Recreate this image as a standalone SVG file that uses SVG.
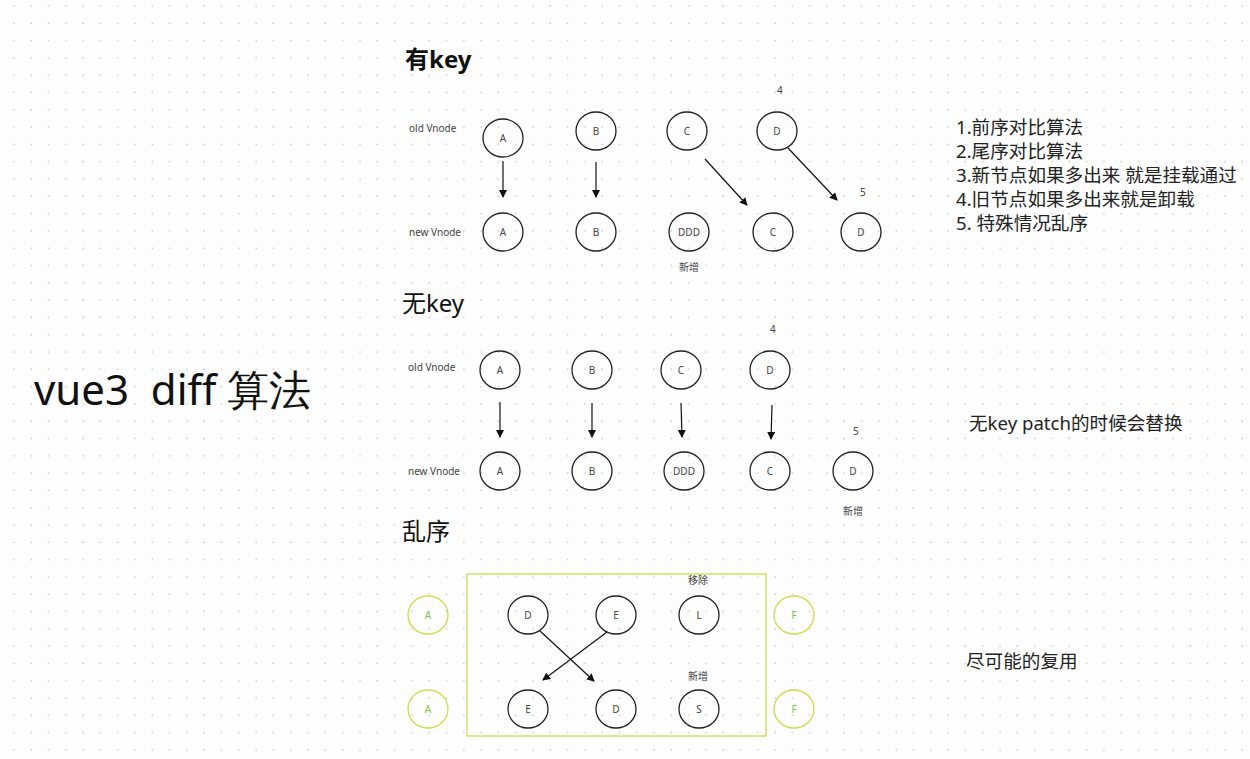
<svg xmlns="http://www.w3.org/2000/svg" width="1250" height="759" viewBox="0 0 1250 759">
<defs>
<pattern id="dots" width="17.3" height="17.3" patternUnits="userSpaceOnUse" x="6" y="-2"><circle cx="8" cy="8" r="0.9" fill="#c8c8c8"/></pattern>
<marker id="ah" markerWidth="8" markerHeight="8" refX="7" refY="4" orient="auto" markerUnits="userSpaceOnUse"><path d="M0,0 L8,4 L0,8 z" fill="#111"/></marker>
<style>
.n ellipse{fill:none;stroke:#222;stroke-width:1.3}
.g ellipse{fill:none;stroke:#c9e04a;stroke-width:1.3}
.n text,.g text{font-family:"Noto Sans",sans-serif;font-size:10px;text-anchor:middle;dominant-baseline:central;fill:#444}
.g text{fill:#7cc44a}
.lbl{font-family:"Noto Sans","Noto Sans CJK SC",sans-serif;font-size:10px;fill:#444}
.h{font-family:"Noto Sans","Noto Sans CJK SC",sans-serif;font-size:24px;fill:#111}
.side{font-family:"Noto Sans","Noto Sans CJK SC",sans-serif;font-size:18.6px;fill:#222}
#conn line{stroke:#111;stroke-width:1.2;marker-end:url(#ah)}
</style>
</defs>
<rect width="1250" height="759" fill="#fdfdfd"/>
<rect width="1250" height="759" fill="url(#dots)"/>
<text x="34" y="405" font-family="Noto Sans,sans-serif" font-size="42" fill="#111" style="white-space:pre" xml:space="preserve">vue3  diff 算法</text>
<text class="h" x="405" y="68" font-weight="bold">有key</text>
<text class="h" x="402" y="312">无key</text>
<text class="h" x="402" y="540">乱序</text>
<text class="lbl" x="409" y="132">old Vnode</text>
<text class="lbl" x="409" y="236">new Vnode</text>
<text class="lbl" x="408" y="371">old Vnode</text>
<text class="lbl" x="408" y="475">new Vnode</text>
<text class="lbl" x="777" y="94">4</text>
<text class="lbl" x="860" y="196">5</text>
<text class="lbl" x="679" y="271">新增</text>
<text class="lbl" x="770" y="333">4</text>
<text class="lbl" x="853" y="435">5</text>
<text class="lbl" x="843" y="515">新增</text>
<text class="lbl" x="688" y="584">移除</text>
<text class="lbl" x="688" y="680">新增</text>
<g class="side">
<text x="956" y="134">1.前序对比算法</text>
<text x="956" y="158">2.尾序对比算法</text>
<text x="956" y="182">3.新节点如果多出来 就是挂载通过</text>
<text x="956" y="206">4.旧节点如果多出来就是卸载</text>
<text x="956" y="230">5. 特殊情况乱序</text>
<text x="969" y="430">无key patch的时候会替换</text>
<text x="966" y="668">尽可能的复用</text>
</g>
<rect x="467" y="574" width="299" height="162" fill="none" stroke="#c9e04a" stroke-width="1.3"/>
<g id="k-oA" class="n"><ellipse cx="503" cy="138" rx="20" ry="19"/><text x="503" y="138">A</text></g>
<g id="k-oB" class="n"><ellipse cx="596" cy="131" rx="20" ry="19"/><text x="596" y="131">B</text></g>
<g id="k-oC" class="n"><ellipse cx="687" cy="131" rx="20" ry="19"/><text x="687" y="131">C</text></g>
<g id="k-oD" class="n"><ellipse cx="777" cy="131" rx="20" ry="19"/><text x="777" y="131">D</text></g>
<g id="k-nA" class="n"><ellipse cx="503" cy="232" rx="20" ry="19"/><text x="503" y="232">A</text></g>
<g id="k-nB" class="n"><ellipse cx="596" cy="232" rx="20" ry="19"/><text x="596" y="232">B</text></g>
<g id="k-nDDD" class="n"><ellipse cx="689" cy="232" rx="20" ry="19"/><text x="689" y="232">DDD</text></g>
<g id="k-nC" class="n"><ellipse cx="773" cy="232" rx="20" ry="19"/><text x="773" y="232">C</text></g>
<g id="k-nD" class="n"><ellipse cx="861" cy="232" rx="20" ry="19"/><text x="861" y="232">D</text></g>
<g id="u-oA" class="n"><ellipse cx="500" cy="370" rx="20" ry="19"/><text x="500" y="370">A</text></g>
<g id="u-oB" class="n"><ellipse cx="592" cy="370" rx="20" ry="19"/><text x="592" y="370">B</text></g>
<g id="u-oC" class="n"><ellipse cx="681" cy="370" rx="20" ry="19"/><text x="681" y="370">C</text></g>
<g id="u-oD" class="n"><ellipse cx="770" cy="370" rx="20" ry="19"/><text x="770" y="370">D</text></g>
<g id="u-nA" class="n"><ellipse cx="500" cy="471" rx="20" ry="19"/><text x="500" y="471">A</text></g>
<g id="u-nB" class="n"><ellipse cx="592" cy="471" rx="20" ry="19"/><text x="592" y="471">B</text></g>
<g id="u-nDDD" class="n"><ellipse cx="684" cy="471" rx="20" ry="19"/><text x="684" y="471">DDD</text></g>
<g id="u-nC" class="n"><ellipse cx="770" cy="471" rx="20" ry="19"/><text x="770" y="471">C</text></g>
<g id="u-nD" class="n"><ellipse cx="853" cy="471" rx="20" ry="19"/><text x="853" y="471">D</text></g>
<g id="r-oA" class="g"><ellipse cx="428" cy="615" rx="20" ry="19"/><text x="428" y="615">A</text></g>
<g id="r-oD" class="n"><ellipse cx="528" cy="615" rx="20" ry="19"/><text x="528" y="615">D</text></g>
<g id="r-oE" class="n"><ellipse cx="616" cy="615" rx="20" ry="19"/><text x="616" y="615">E</text></g>
<g id="r-oL" class="n"><ellipse cx="699" cy="615" rx="20" ry="19"/><text x="699" y="615">L</text></g>
<g id="r-oF" class="g"><ellipse cx="794" cy="615" rx="20" ry="19"/><text x="794" y="615">F</text></g>
<g id="r-nA" class="g"><ellipse cx="428" cy="709" rx="20" ry="19"/><text x="428" y="709">A</text></g>
<g id="r-nE" class="n"><ellipse cx="528" cy="709" rx="20" ry="19"/><text x="528" y="709">E</text></g>
<g id="r-nD" class="n"><ellipse cx="616" cy="709" rx="20" ry="19"/><text x="616" y="709">D</text></g>
<g id="r-nS" class="n"><ellipse cx="699" cy="709" rx="20" ry="19"/><text x="699" y="709">S</text></g>
<g id="r-nF" class="g"><ellipse cx="794" cy="709" rx="20" ry="19"/><text x="794" y="709">F</text></g>
<g id="conn">
<line x1="503" y1="161" x2="503" y2="197"/>
<line x1="596" y1="162" x2="596" y2="197"/>
<line x1="705" y1="159" x2="747" y2="205"/>
<line x1="788" y1="148" x2="837" y2="200"/>
<line x1="500" y1="402" x2="500" y2="437"/>
<line x1="592" y1="403" x2="592" y2="437"/>
<line x1="681" y1="403" x2="682" y2="437"/>
<line x1="772" y1="405" x2="771" y2="439"/>
<line x1="540" y1="631" x2="594" y2="681"/>
<line x1="607" y1="632" x2="543" y2="680"/>
</g>
</svg>
